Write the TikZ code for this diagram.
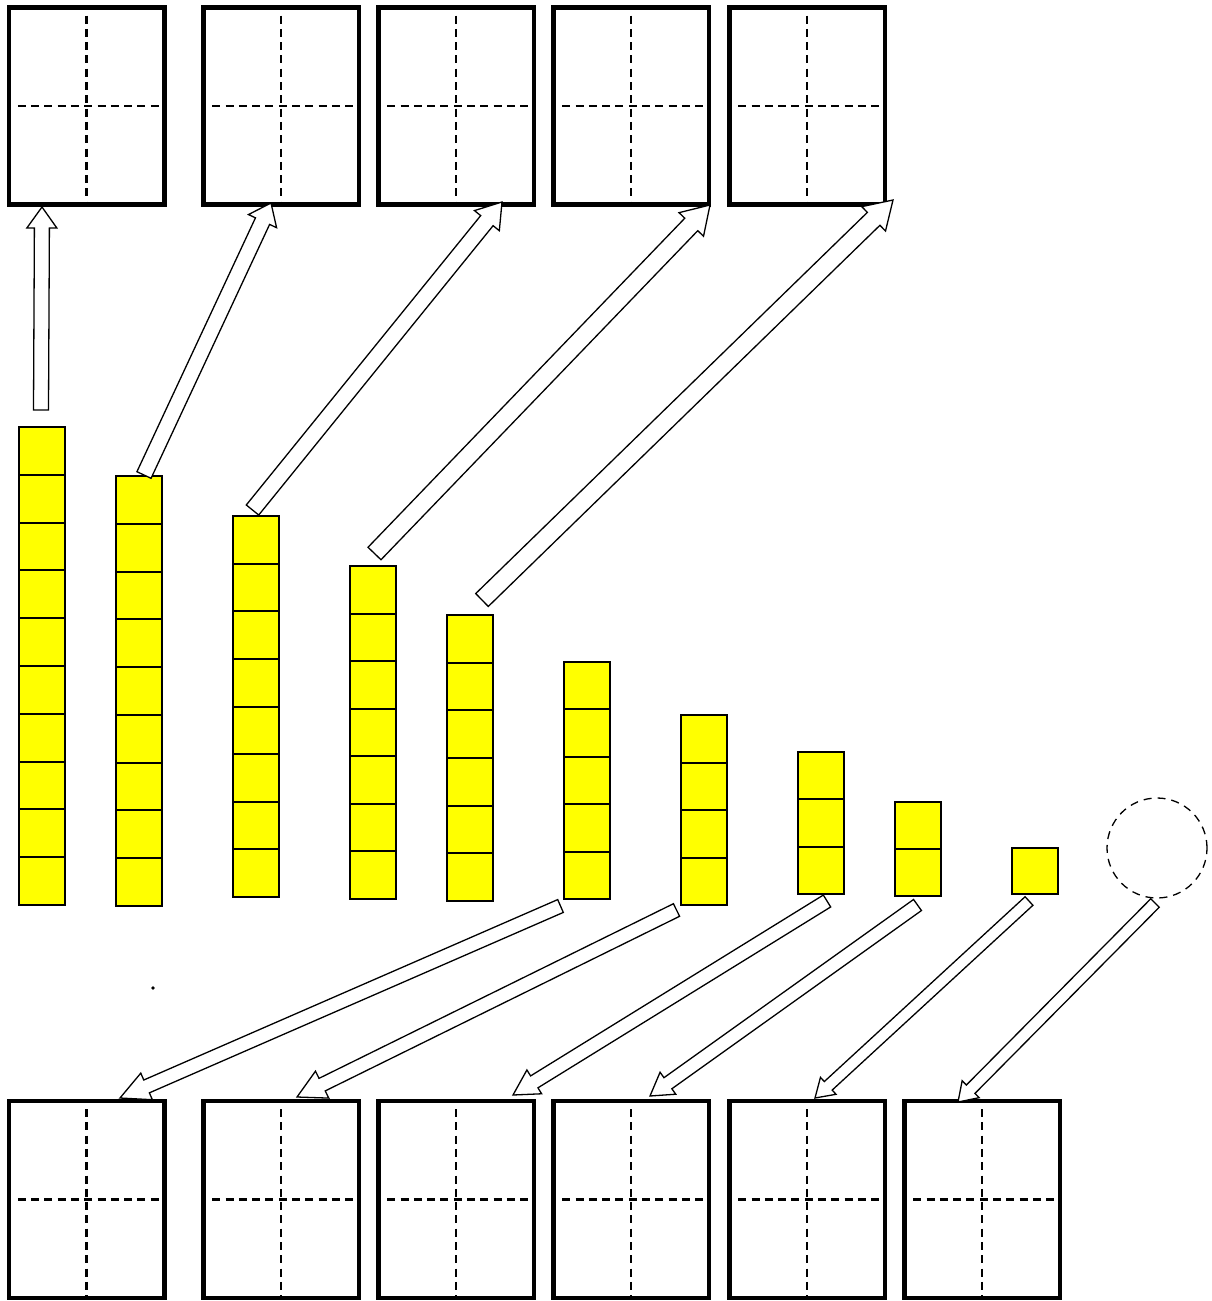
\documentclass[tikz,border=0pt]{standalone}
\usetikzlibrary{calc}
\definecolor{yel}{RGB}{255,255,0}
\tikzset{
  gridbox/.style={draw, line width=4.5pt, line join=miter, minimum width=155.5pt, minimum height=197pt, inner sep=0pt, outer sep=0pt},
  dl/.style={line width=2.2pt, dash pattern=on 8pt off 5.3pt},
  cell/.style={draw, fill=yel, line width=2pt, minimum width=46pt, inner sep=0pt, outer sep=0pt},
  arr/.style={draw, fill=white, line width=1.3pt, line join=miter},
}
\newcommand{\gbox}[3]{%
  \node[gridbox] (#1) at (#2,#3) {};
  \draw[dl] ([xshift=9pt]#1.west) -- (#1.east);
  \draw[dl] ([yshift=-8pt]#1.north) -- (#1.south);
}
\newcommand{\ycol}[5]{%
  \pgfmathsetmacro{\ch}{(#4-#3)/#5}%
  \foreach \i in {1,...,#5}{%
    \node[cell, minimum height={\ch pt}, anchor=north west] (#1-\i) at (#2,{#3+(\i-1)*\ch}) {};
  }%
}
\newcommand{\barrow}[5]{%
  \coordinate (hb) at ($(#2)!#5pt!(#1)$);
  \draw[arr] ($(#1)!#3pt!90:(#2)$) -- ($(hb)!#3pt!90:(#2)$) -- ($(hb)!#4pt!90:(#2)$) -- (#2)
     -- ($(hb)!#4pt!-90:(#2)$) -- ($(hb)!#3pt!-90:(#2)$) -- ($(#1)!#3pt!-90:(#2)$) -- cycle;
}
\begin{document}
\begin{tikzpicture}[x=1pt,y=-1pt]
\useasboundingbox (0,0) rectangle (1211,1301);
\fill[white] (0,0) rectangle (1211,1301);
% top boxes
\gbox{t1}{86.5}{106}
\gbox{t2}{281}{106}
\gbox{t3}{456}{106}
\gbox{t4}{631}{106}
\gbox{t5}{807}{106}
% bottom boxes
\gbox{b1}{86.5}{1199.5}
\gbox{b2}{281}{1199.5}
\gbox{b3}{456}{1199.5}
\gbox{b4}{631}{1199.5}
\gbox{b5}{807}{1199.5}
\gbox{b6}{982}{1199.5}
% yellow columns
\ycol{c1}{19}{427}{905}{10}
\ycol{c2}{116}{476}{906}{9}
\ycol{c3}{233}{516}{897}{8}
\ycol{c4}{350}{566}{899}{7}
\ycol{c5}{447}{615}{901}{6}
\ycol{c6}{564}{662}{899}{5}
\ycol{c7}{681}{715}{905}{4}
\ycol{c8}{798}{752}{894}{3}
\ycol{c9}{895}{802}{896}{2}
\ycol{c10}{1012}{848}{894}{1}
% empty dashed circle
\node[circle, draw, line width=1.3pt, dash pattern=on 8pt off 6pt, minimum size=100pt, inner sep=0pt] (zero) at (1157,848) {};
% small dot
\node[circle, fill=black, minimum size=3.6pt, inner sep=0pt] (dot) at (153,988) {};
% arrow end points
\coordinate (a1s) at (41,410);    \coordinate (a1e) at (42,207);
\coordinate (a2s) at (144,475);   \coordinate (a2e) at (271,203);
\coordinate (a3s) at (252.5,510); \coordinate (a3e) at (502,202);
\coordinate (a4s) at (374.5,553.5); \coordinate (a4e) at (710,205);
\coordinate (a5s) at (482,600);   \coordinate (a5e) at (893,200);
\coordinate (a6s) at (560.5,906); \coordinate (a6e) at (120,1098);
\coordinate (a7s) at (676.5,910); \coordinate (a7e) at (297,1097);
\coordinate (a8s) at (827,901);   \coordinate (a8e) at (513,1095);
\coordinate (a9s) at (917.5,905); \coordinate (a9e) at (650,1096);
\coordinate (a10s) at (1029,901); \coordinate (a10e) at (815,1098);
\coordinate (a11s) at (1155,903); \coordinate (a11e) at (958,1102);
% arrows
\barrow{a1s}{a1e}{7.5}{15}{21}
\barrow{a2s}{a2e}{7.8}{15.5}{20}
\barrow{a3s}{a3e}{8}{16}{24}
\barrow{a4s}{a4e}{9}{17}{27}
\barrow{a5s}{a5e}{9}{17}{27}
\barrow{a6s}{a6e}{7}{14.5}{29}
\barrow{a7s}{a7e}{7}{15}{28}
\barrow{a8s}{a8e}{7}{14}{25}
\barrow{a9s}{a9e}{6.8}{13.5}{22}
\barrow{a10s}{a10e}{5.8}{11.5}{18}
\barrow{a11s}{a11e}{6}{12}{18}
\end{tikzpicture}
\end{document}
